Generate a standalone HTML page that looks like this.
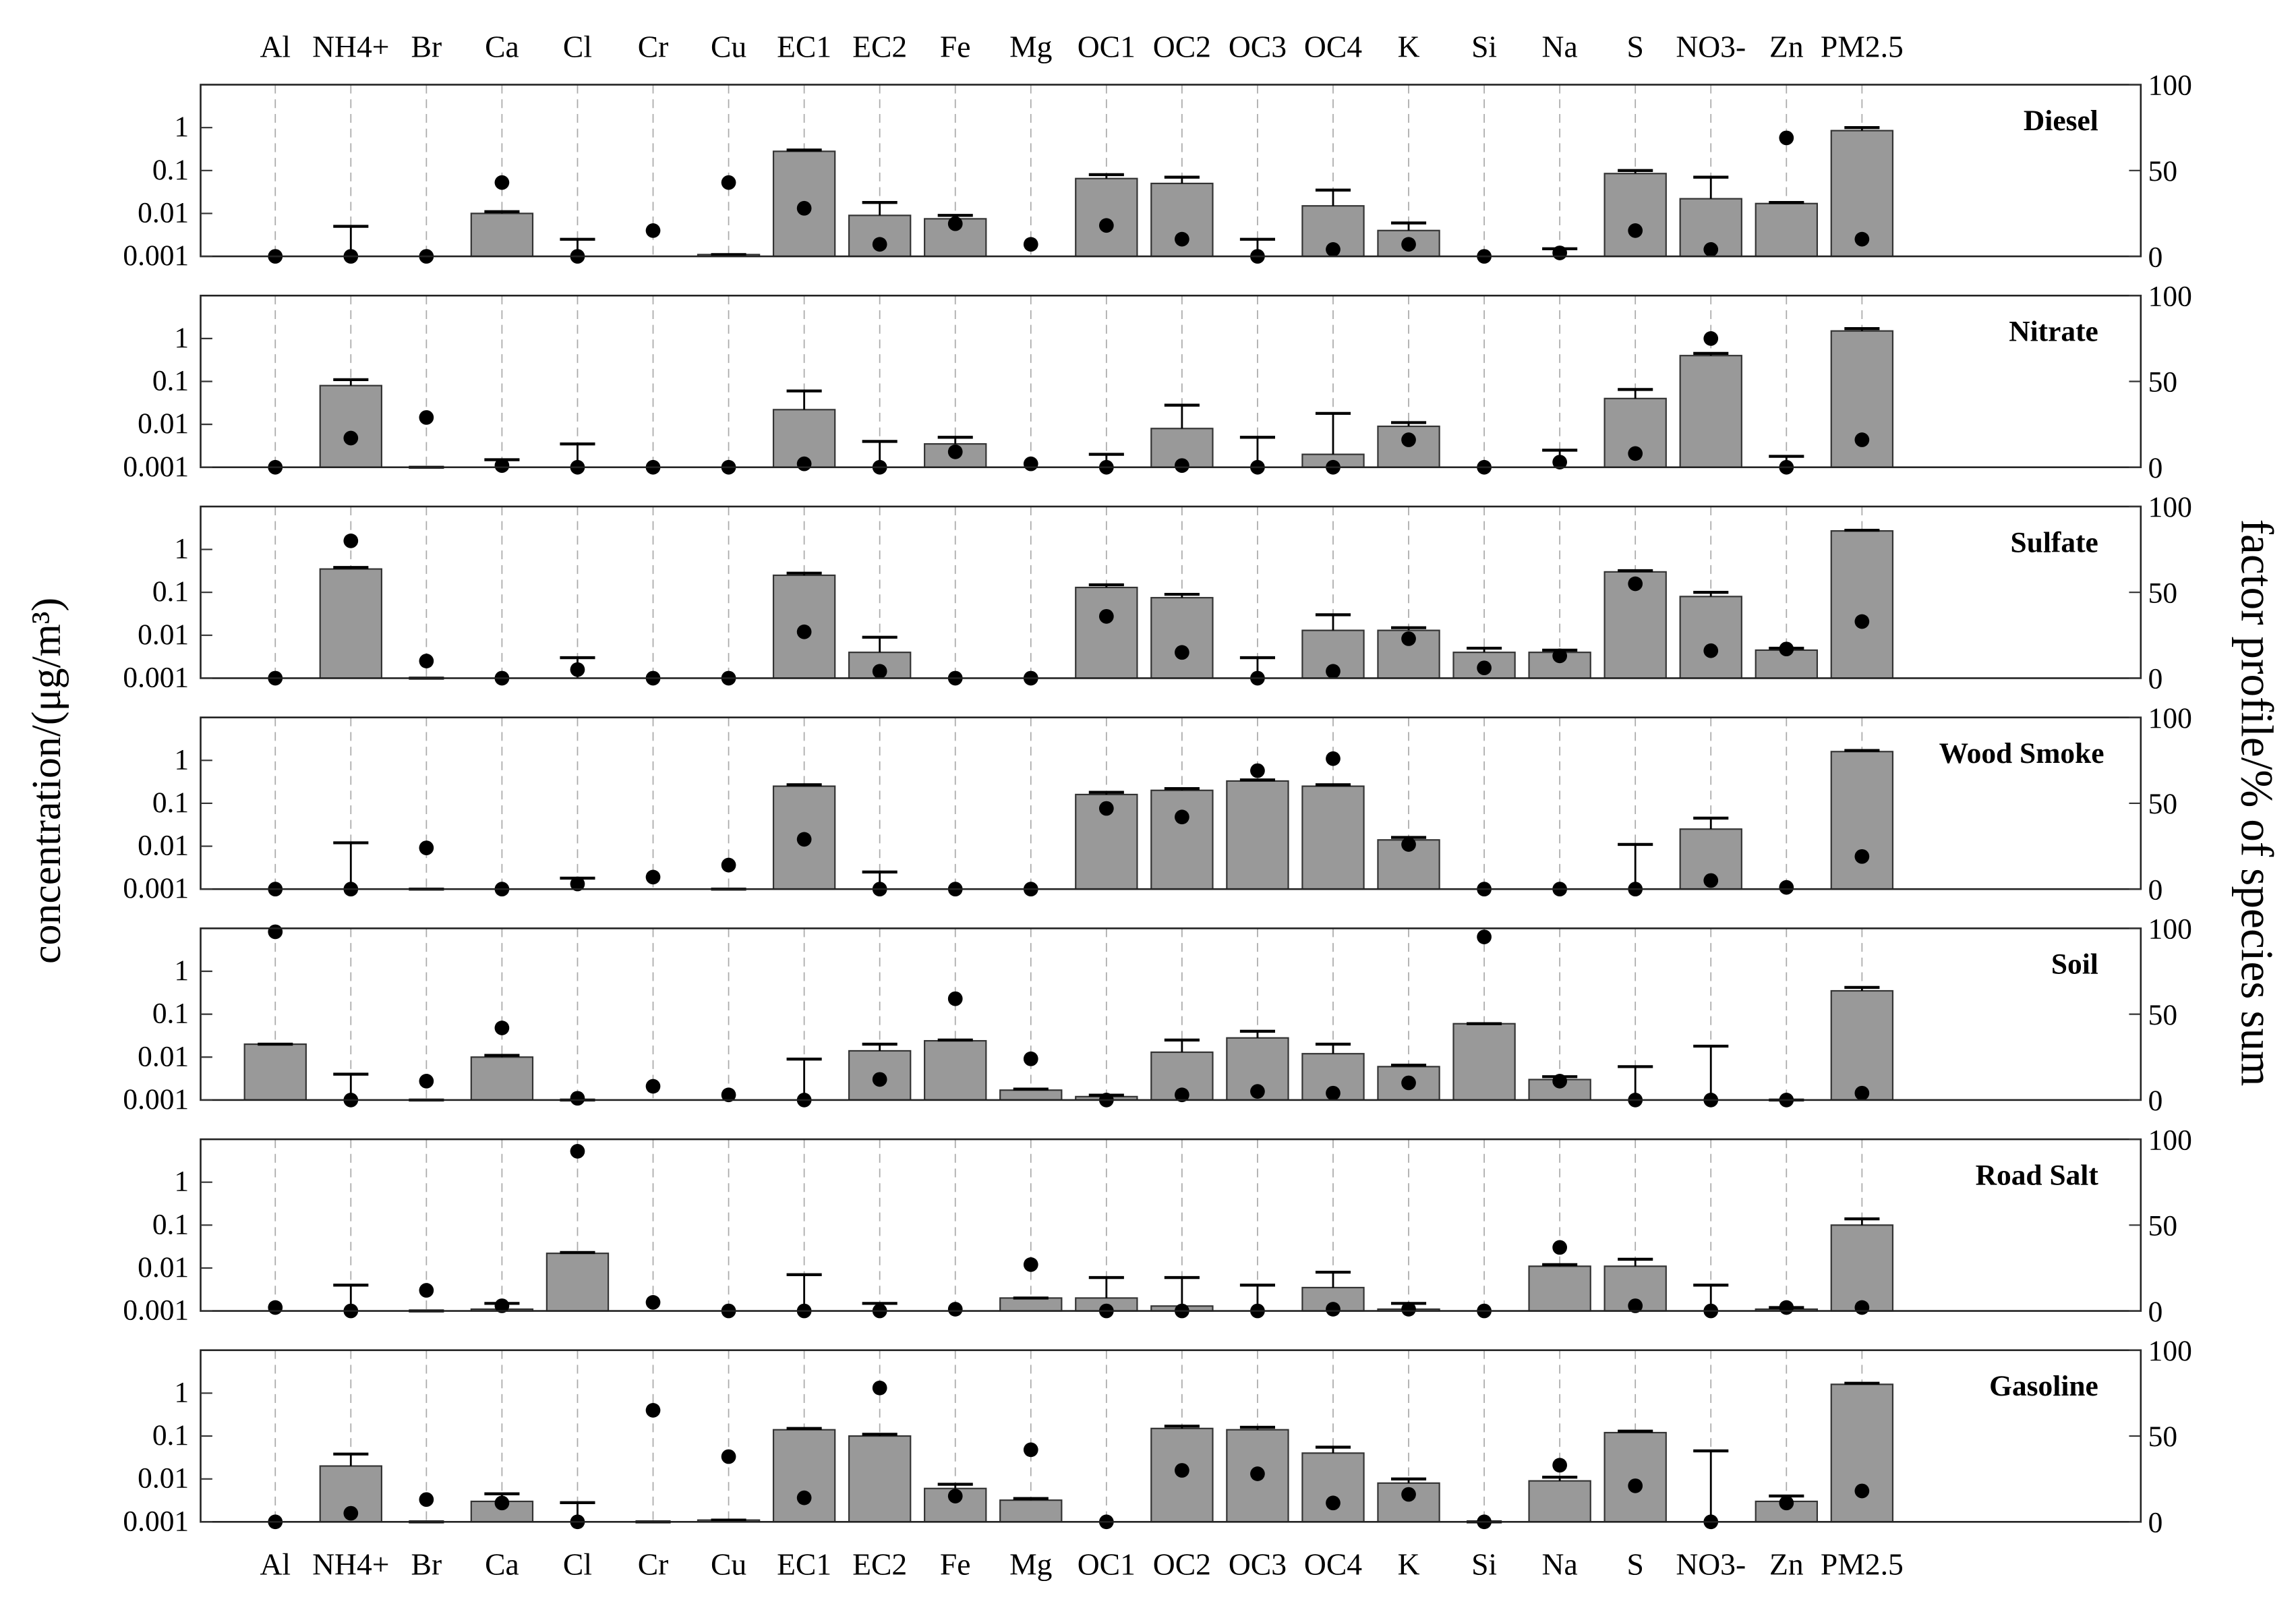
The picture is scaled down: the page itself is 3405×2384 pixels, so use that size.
<!DOCTYPE html>
<html><head><meta charset="utf-8"><style>html,body{margin:0;padding:0;background:#fff}svg{display:block}</style></head>
<body>
<svg id="chart" xmlns="http://www.w3.org/2000/svg" width="3405" height="2384" viewBox="0 0 1568 1097.8" font-family="'Liberation Serif', serif">
<rect width="1568" height="1098" fill="#fff"/>
<text x="0" y="0" transform="translate(41,533) rotate(-90)" text-anchor="middle" font-size="28.5">concentration/(μg/m³)</text>
<text x="0" y="0" transform="translate(1531,548) rotate(90)" text-anchor="middle" font-size="31">factor profile/% of species sum</text>
<g id="plots"></g>
</svg>
<script>
const categories = ["Al","NH4+","Br","Ca","Cl","Cr","Cu","EC1","EC2","Fe","Mg","OC1","OC2","OC3","OC4","K","Si","Na","S","NO3-","Zn","PM2.5"];
const factors = ["Diesel","Nitrate","Sulfate","Wood Smoke","Soil","Road Salt","Gasoline"];
const yTicks = [0.001,0.01,0.1,1];
const yTickLabels = ["0.001","0.01","0.1","1"];
const rTicks = [0,50,100];
// concentrations (0 = no bar)
const concDiesel   = [0,0,0,0.01,0,0,0.0011,0.28,0.009,0.0075,0,0.065,0.05,0,0.015,0.004,0,0,0.085,0.022,0.017,0.85];
const concNitrate  = [0,0.08,0,0,0,0,0,0.022,0,0.0035,0,0,0.008,0,0.002,0.009,0,0,0.04,0.4,0,1.5];
const concSulfate  = [0,0.35,0,0,0,0,0,0.25,0.004,0,0,0.13,0.075,0,0.013,0.013,0.004,0.004,0.3,0.08,0.0045,2.7];
const concWood     = [0,0,0,0,0,0,0,0.25,0,0,0,0.16,0.2,0.33,0.25,0.014,0,0,0,0.025,0,1.6];
const concSoil     = [0.02,0,0,0.01,0,0,0,0,0.014,0.024,0.0017,0.0012,0.013,0.028,0.012,0.006,0.06,0.003,0,0,0,0.35];
const concRoad     = [0,0,0,0.0011,0.022,0,0,0,0,0,0.002,0.002,0.0013,0,0.0035,0.0011,0,0.011,0.011,0,0.0011,0.1];
const concGas      = [0,0.02,0,0.003,0,0,0.0011,0.14,0.1,0.006,0.0032,0,0.15,0.14,0.04,0.008,0,0.009,0.12,0,0.003,1.6];
// error bar upper values (null = none)
const errDiesel  = [null,0.005,null,0.011,0.0025,null,0.0011,0.3,0.018,0.009,null,0.08,0.07,0.0025,0.035,0.006,null,0.0015,0.1,0.07,0.018,1.0];
const errNitrate = [null,0.11,0.001,0.0015,0.0035,null,null,0.06,0.004,0.005,null,0.002,0.028,0.005,0.018,0.011,null,0.0025,0.065,0.45,0.0018,1.7];
const errSulfate = [null,0.38,0.001,null,0.003,null,null,0.28,0.009,null,null,0.15,0.09,0.003,0.03,0.015,0.005,0.0045,0.32,0.1,0.005,2.8];
const errWood    = [null,0.012,0.001,null,0.0018,null,0.001,0.27,0.0025,null,null,0.18,0.22,0.35,0.27,0.016,null,null,0.011,0.045,null,1.7];
const errSoil    = [0.02,0.004,0.001,0.011,0.001,null,null,0.009,0.02,0.025,0.0018,0.0013,0.025,0.04,0.02,0.0065,0.06,0.0035,0.006,0.018,0.001,0.42];
const errRoad    = [null,0.004,0.001,0.0015,0.023,null,null,0.007,0.0015,null,0.002,0.006,0.006,0.004,0.008,0.0015,null,0.012,0.016,0.004,0.0012,0.14];
const errGas     = [null,0.038,0.001,0.0045,0.0028,0.001,0.0011,0.15,0.11,0.0075,0.0035,null,0.17,0.16,0.055,0.01,0.001,0.011,0.13,0.045,0.004,1.7];
// species percent (dots)
const pctDiesel  = [0,0,0,43,0,15,43,28,7,19,7,18,10,0,4,7,0,2,15,4,69,10];
const pctNitrate = [0,17,29,1,0,0,0,2,0,9,2,0,1,0,0,16,0,3,8,75,0,16];
const pctSulfate = [0,80,10,0,5,0,0,27,4,0,0,36,15,0,4,23,6,13,55,16,17,33];
const pctWood    = [0,0,24,0,3,7,14,29,0,0,0,47,42,69,76,26,0,0,0,5,1,19];
const pctSoil    = [98,0,11,42,1,8,3,0,12,59,24,0,3,5,4,10,95,11,0,0,0,4];
const pctRoad    = [2,0,12,3,93,5,0,0,0,1,27,0,0,0,1,1,0,37,3,0,2,2];
const pctGas     = [0,5,13,11,0,65,38,14,78,15,42,0,30,28,11,16,0,33,21,0,11,18];

const concs=[concDiesel,concNitrate,concSulfate,concWood,concSoil,concRoad,concGas];
const errs=[errDiesel,errNitrate,errSulfate,errWood,errSoil,errRoad,errGas];
const pcts=[pctDiesel,pctNitrate,pctSulfate,pctWood,pctSoil,pctRoad,pctGas];

const NS="http://www.w3.org/2000/svg";
const g=document.getElementById('plots');
const L=137,R=1462,H=117.2,DEC=29.3;
function xS(i){return 188+i*51.6;}
function bottomOf(p){return 175+p*144;}
function yLog(v,p){const lv=Math.max(Math.log10(v),-3);return bottomOf(p)-(lv+3)*DEC;}
function yPct(v,p){return bottomOf(p)-v*H/100;}
function mk(tag,attrs,parent){const e=document.createElementNS(NS,tag);for(const k in attrs)e.setAttribute(k,attrs[k]);(parent||g).appendChild(e);return e;}

categories.forEach((c,i)=>{
  const t=mk('text',{x:xS(i),y:39,'text-anchor':'middle','font-size':21});t.textContent=c;
  
  
  const b=mk('text',{x:xS(i),y:1075,'text-anchor':'middle','font-size':21});b.textContent=c;
  
  
});

factors.forEach((f,p)=>{
  const bot=bottomOf(p),top=bot-H;
  const pg=mk('g',{});
  
  
  categories.forEach((c,i)=>{
    mk('line',{x1:xS(i),x2:xS(i),y1:top,y2:bot,stroke:'#aaa','stroke-width':0.8,'stroke-dasharray':'6,4'},pg);
  });
  concs[p].forEach((v,i)=>{
    if(v>0.001){
      const y=yLog(v,p);
      const r=mk('rect',{x:xS(i)-21,y:y,width:42,height:bot-y,fill:'#999',stroke:'#333','stroke-width':1},pg);
      
      
    }
  });
  errs[p].forEach((e,i)=>{
    if(e==null)return;
    const base=yLog(Math.max(concs[p][i],0.001),p),ye=yLog(e,p);
    const l=mk('line',{x1:xS(i),x2:xS(i),y1:base,y2:ye,stroke:'#000','stroke-width':1.3},pg);
    
    
    mk('line',{x1:xS(i)-12,x2:xS(i)+12,y1:ye,y2:ye,stroke:'#000','stroke-width':2},pg);
  });
  pcts[p].forEach((v,i)=>{
    const d=mk('circle',{cx:xS(i),cy:yPct(v,p),r:5,fill:'#000'},pg);
    
    
  });
  mk('rect',{x:L,y:top,width:R-L,height:H,fill:'none',stroke:'#222','stroke-width':1.2},pg);
  yTicks.forEach((t,k)=>{
    const y=yLog(t,p);
    mk('line',{x1:L,x2:L+8,y1:y,y2:y,stroke:'#333'},pg);
    const tx=mk('text',{x:L-8,y:y+6,'text-anchor':'end','font-size':20},pg);tx.textContent=yTickLabels[k];
    
    
  });
  rTicks.forEach(t=>{
    const y=yPct(t,p);
    mk('line',{x1:R-8,x2:R,y1:y,y2:y,stroke:'#333'},pg);
    const tx=mk('text',{x:R+5,y:y+7,'font-size':20},pg);tx.textContent=t;
    
    
  });
  const ttl=mk('text',{x:f==='Wood Smoke'?1437:1433,y:top+31,'text-anchor':'end','font-size':20,'font-weight':'bold'},pg);
  ttl.textContent=f;
  
  
});
</script>
</body></html>
